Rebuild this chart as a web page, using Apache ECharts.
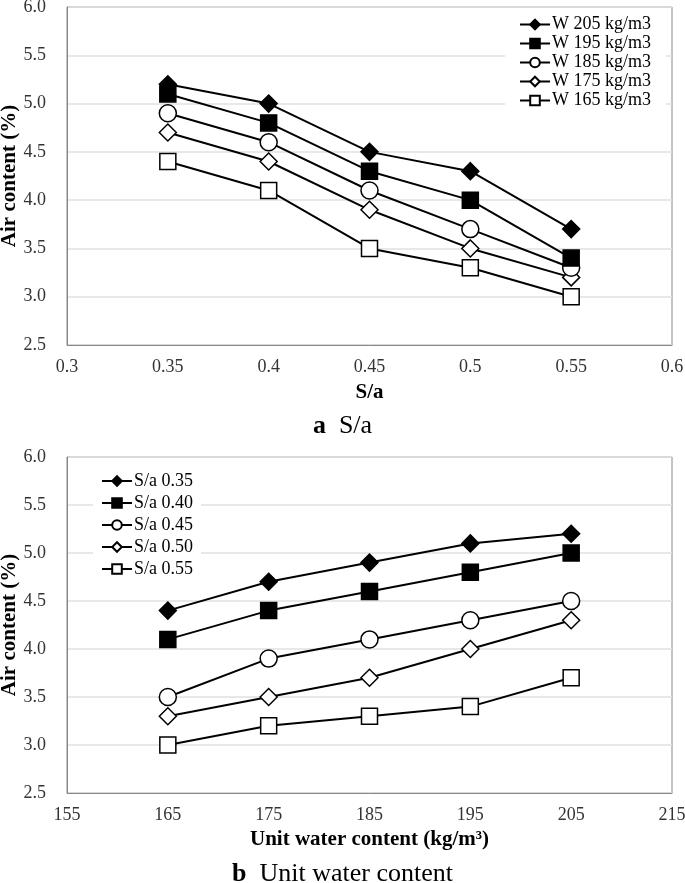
<!DOCTYPE html>
<html><head><meta charset="utf-8">
<script src="https://cdn.jsdelivr.net/npm/echarts@6/dist/echarts.min.js"></script>
<style>html,body{margin:0;padding:0;background:#fff}#c{width:685px;height:883px}</style>
</head><body><div id="c"></div>
<script>
// Panel a: x = S/a
const saX = [0.35, 0.40, 0.45, 0.50, 0.55];
const w205 = [5.2, 5.0, 4.5, 4.3, 3.7];
const w195 = [5.1, 4.8, 4.3, 4.0, 3.4];
const w185 = [4.9, 4.6, 4.1, 3.7, 3.3];
const w175 = [4.7, 4.4, 3.9, 3.5, 3.2];
const w165 = [4.4, 4.1, 3.5, 3.3, 3.0];
const namesA = ['W 205 kg/m3', 'W 195 kg/m3', 'W 185 kg/m3', 'W 175 kg/m3', 'W 165 kg/m3'];
// Panel b: x = unit water content
const wX = [165, 175, 185, 195, 205];
const sa035 = [4.4, 4.7, 4.9, 5.1, 5.2];
const sa040 = [4.1, 4.4, 4.6, 4.8, 5.0];
const sa045 = [3.5, 3.9, 4.1, 4.3, 4.5];
const sa050 = [3.3, 3.5, 3.7, 4.0, 4.3];
const sa055 = [3.0, 3.2, 3.3, 3.4, 3.7];
const namesB = ['S/a 0.35', 'S/a 0.40', 'S/a 0.45', 'S/a 0.50', 'S/a 0.55'];

const FONT = '"Liberation Serif", "Times New Roman", serif';
const markers = [
  {symbol: 'diamond', size: 17, fill: '#000'},
  {symbol: 'rect', size: 16, fill: '#000'},
  {symbol: 'circle', size: 17, fill: '#fff'},
  {symbol: 'diamond', size: 17, fill: '#fff'},
  {symbol: 'rect', size: 16, fill: '#fff'}
];
function mk(name, xs, ys, idx, i) {
  return {
    name: name, type: 'line', xAxisIndex: idx, yAxisIndex: idx,
    data: xs.map((x, k) => [x, ys[k]]),
    symbol: markers[i].symbol, symbolSize: markers[i].size,
    lineStyle: {color: '#000', width: 2},
    itemStyle: {color: markers[i].fill, borderColor: '#000', borderWidth: 1.5},
    emphasis: {disabled: true}, animation: false, z: 10 - i
  };
}
const dataA = [w205, w195, w185, w175, w165];
const dataB = [sa035, sa040, sa045, sa050, sa055];
const series = [];
dataA.forEach((d, i) => series.push(mk(namesA[i], saX, d, 0, i)));
dataB.forEach((d, i) => series.push(mk(namesB[i], wX, d, 1, i)));

const axisLab = {fontFamily: FONT, fontSize: 18, color: '#333'};
const nameStyle = {fontFamily: FONT, fontSize: 21, fontWeight: 'bold', color: '#000'};
const yAx = (gi) => ({
  gridIndex: gi, type: 'value', min: 2.5, max: 6, interval: 0.5,
  name: 'Air content (%)', nameLocation: 'middle', nameGap: 47, nameRotate: 90,
  nameMoveOverlap: false,
  nameTextStyle: nameStyle,
  axisLine: {show: true, lineStyle: {color: '#888'}}, axisTick: {show: false},
  axisLabel: Object.assign({formatter: v => v.toFixed(1), margin: 21}, axisLab),
  splitLine: {lineStyle: {color: '#e0e0e0', width: 1.5}}
});
const legendText = (lh) => ({fontFamily: FONT, fontSize: 18, color: '#000', lineHeight: lh, padding: [0, 0, 0, -3]});

const chart = echarts.init(document.getElementById('c'), null, {renderer: 'canvas'});
chart.setOption({
  backgroundColor: '#fff',
  animation: false,
  grid: [
    {left: 67, top: 7, width: 605, height: 338, show: true, borderColor: '#888', borderWidth: 1,
     containLabel: false, outerBoundsMode: 'none'},
    {left: 67, top: 457, width: 605, height: 336, show: true, borderColor: '#888', borderWidth: 1,
     containLabel: false, outerBoundsMode: 'none'}
  ],
  xAxis: [
    {gridIndex: 0, type: 'value', min: 0.3, max: 0.6, interval: 0.05,
     name: 'S/a', nameLocation: 'middle', nameGap: 37, nameMoveOverlap: false, nameTextStyle: nameStyle,
     axisLine: {lineStyle: {color: '#888'}}, axisTick: {show: false}, splitLine: {show: false},
     axisLabel: Object.assign({formatter: v => String(parseFloat(v.toFixed(2))), margin: 13}, axisLab)},
    {gridIndex: 1, type: 'value', min: 155, max: 215, interval: 10,
     name: 'Unit water content (kg/m³)', nameLocation: 'middle', nameGap: 36, nameMoveOverlap: false, nameTextStyle: nameStyle,
     axisLine: {lineStyle: {color: '#888'}}, axisTick: {show: false}, splitLine: {show: false},
     axisLabel: Object.assign({margin: 13}, axisLab)}
  ],
  yAxis: [yAx(0), yAx(1)],
  legend: [
    {data: namesA, orient: 'vertical', left: 505, top: 9, itemWidth: 30, itemHeight: 12, itemGap: 0,
     backgroundColor: '#fff', padding: [6, 15, 8, 14], textStyle: legendText(19)},
    {data: namesB, orient: 'vertical', left: 93, top: 464, itemWidth: 30, itemHeight: 12, itemGap: 0,
     backgroundColor: '#fff', padding: [6, 8, 6, 8], textStyle: legendText(22)}
  ],
  title: [
    {text: '{b|a}  S/a', left: 'center', top: 408,
     textStyle: {fontFamily: FONT, fontSize: 26, fontWeight: 'normal', color: '#000',
       rich: {b: {fontFamily: FONT, fontSize: 26, fontWeight: 'bold', color: '#000'}}}},
    {text: '{b|b}  Unit water content', left: 'center', top: 856,
     textStyle: {fontFamily: FONT, fontSize: 26, fontWeight: 'normal', color: '#000',
       rich: {b: {fontFamily: FONT, fontSize: 26, fontWeight: 'bold', color: '#000'}}}}
  ],
  series: series
});
</script></body></html>
